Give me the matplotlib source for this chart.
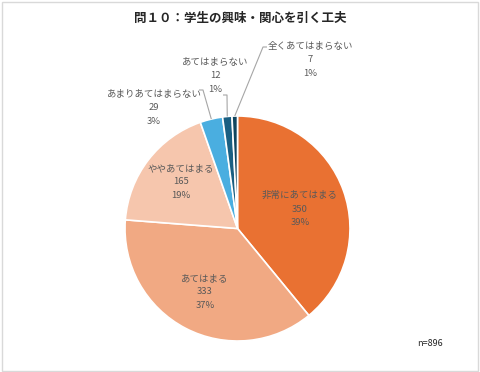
"""
Pie chart: 問１０ 学生の興味・関心を引く工夫 (n=896).
"""

import matplotlib

matplotlib.use("Agg")
import matplotlib.pyplot as plt
import numpy as np
from matplotlib.patches import Rectangle

#### Data

CATEGORIES = [
    "非常にあてはまる",
    "あてはまる",
    "ややあてはまる",
    "あまりあてはまらない",
    "あてはまらない",
    "全くあてはまらない",
]
COUNTS = [350, 333, 165, 29, 12, 7]
PERCENT_LABELS = ["39%", "37%", "19%", "3%", "1%", "1%"]
TITLE = "問１０：学生の興味・関心を引く工夫"
N_LABEL = "n=896"

#### Style / layout

COLORS = ["#E97132", "#F1A983", "#F6C6AD", "#4AAEE0", "#1A5F82", "#11465F"]
TEXT_COLOR = "#595959"
FONT = ["Noto Sans CJK JP", "DejaVu Sans"]
W, H = 480, 372
CENTER = (237.5, H - 228.5)
RADIUS = 112.5
# label block centres (pixels, top-down y)
LABEL_POS = {
    0: (300, 209),
    1: (205, 292),
    2: (181, 182),
    3: (154, 108),
    4: (215, 76),
    5: (310, 60),
}
# leader line elbows (start, elbow) in pixels, top-down y
LEADERS = {
    3: [(199, 90), (203, 90)],
    4: [(223, 95), (227, 95)],
    5: [(267, 47), (263, 47)],
}
LINE_GAP = 13.5


def fy(y):
    """Convert top-down pixel y to axes y."""
    return H - y


def draw_label(ax, x, y, idx):
    """Three-line label: name, count, percent centred on (x, y)."""
    lines = [CATEGORIES[idx], str(COUNTS[idx]), PERCENT_LABELS[idx]]
    for k, txt in enumerate(lines):
        ax.text(
            x,
            fy(y + (k - 1) * LINE_GAP),
            txt,
            ha="center",
            va="center",
            fontsize=6.8,
            color=TEXT_COLOR,
            family=FONT,
        )


def main():
    fig = plt.figure(figsize=(W / 100, H / 100), dpi=100)
    ax = fig.add_axes([0, 0, 1, 1])

    # light frame around the chart area
    ax.add_patch(
        Rectangle((1.5, 1.5), W - 4, H - 3, fill=False, edgecolor="#D9D9D9", lw=1.0)
    )

    wedges, _ = ax.pie(
        COUNTS,
        colors=COLORS,
        startangle=90,
        counterclock=False,
        center=CENTER,
        radius=RADIUS,
        wedgeprops={"edgecolor": "white", "linewidth": 1.2},
        frame=True,
    )
    ax.set_xlim(0, W)
    ax.set_ylim(0, H)
    ax.set_aspect("equal")
    ax.axis("off")

    for i, wedge in enumerate(wedges):
        x, y = LABEL_POS[i]
        draw_label(ax, x, y, i)
        if i in LEADERS:
            mid = np.deg2rad((wedge.theta1 + wedge.theta2) / 2)
            (sx, sy), (ex, ey) = LEADERS[i]
            tx = CENTER[0] + RADIUS * np.cos(mid)
            ty = CENTER[1] + RADIUS * np.sin(mid)
            ax.plot(
                [sx, ex, tx],
                [fy(sy), fy(ey), ty],
                color="#A6A6A6",
                lw=0.8,
                solid_capstyle="butt",
            )

    ax.text(
        240,
        fy(18),
        TITLE,
        ha="center",
        va="center",
        fontsize=9,
        fontweight="bold",
        color="#262626",
        family=FONT,
    )
    ax.text(
        430, fy(343), N_LABEL, ha="center", va="center", fontsize=6.5,
        color="#262626", family=FONT,
    )

    fig.savefig("out.png", dpi=100)


if __name__ == "__main__":
    main()
